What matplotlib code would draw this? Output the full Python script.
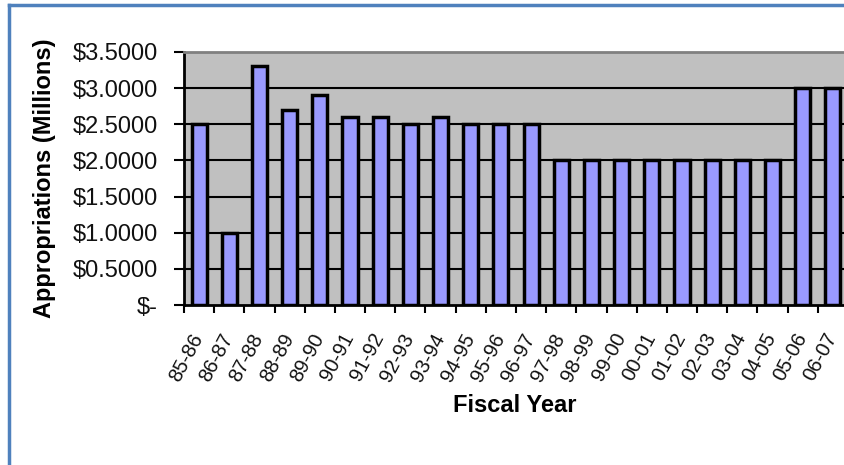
import matplotlib
matplotlib.use("Agg")
import matplotlib.pyplot as plt
import matplotlib.transforms as mtransforms
import numpy as np
from matplotlib.lines import Line2D
from matplotlib.ticker import FuncFormatter, FixedLocator

# dados
anos = ["85-86", "86-87", "87-88", "88-89", "89-90", "90-91", "91-92", "92-93",
        "93-94", "94-95", "95-96", "96-97", "97-98", "98-99", "99-00", "00-01",
        "01-02", "02-03", "03-04", "04-05", "05-06", "06-07"]
valores = [2.5, 1.0, 3.3, 2.7, 2.9, 2.6, 2.6, 2.5, 2.6, 2.5, 2.5, 2.5,
           2.0, 2.0, 2.0, 2.0, 2.0, 2.0, 2.0, 2.0, 3.0, 3.0]
y_ticks = [0, 0.5, 1.0, 1.5, 2.0, 2.5, 3.0, 3.5]

plt.rcParams['font.family'] = ['Liberation Sans', 'DejaVu Sans']

fig = plt.figure(figsize=(8.45, 4.65), dpi=100)
ax = fig.add_axes([184 / 845, 1 - 305 / 465, 664 / 845, 253 / 465])

x = np.arange(len(anos))
ax.bar(x, valores, width=0.5, color='#9999FF', edgecolor='black', linewidth=2.5, zorder=3)

ax.set_facecolor('#C0C0C0')
ax.set_xlim(-0.5, len(anos) - 0.5)
ax.set_ylim(0, 3.5)

# linhas de grade
ax.yaxis.set_major_locator(FixedLocator(y_ticks))
for v in y_ticks[1:-1]:
    ax.axhline(v, color='black', lw=1.5, zorder=1)

ax.yaxis.set_major_formatter(FuncFormatter(lambda v, p: "$-" if v == 0 else "${:.4f}".format(v)))
ax.tick_params(axis='y', direction='out', length=7, width=1.5, pad=12, labelsize=17, labelcolor='#111111')

# ticks do eixo x nas divisas das categorias
ax.set_xticks(x)
ax.set_xticklabels(anos, rotation=62, ha='right', va='top', rotation_mode='anchor')
ax.set_xticks(np.arange(len(anos) + 1) - 0.5, minor=True)
ax.tick_params(axis='x', which='major', length=0, pad=18, labelsize=14.5, labelcolor='#111111')
ax.tick_params(axis='x', which='minor', direction='out', length=6, width=1.5)

# desloca os rotulos um pouco para a esquerda
desloc = mtransforms.ScaledTranslation(-9 / 100, 0, fig.dpi_scale_trans)
for lbl in ax.get_xticklabels():
    lbl.set_transform(lbl.get_transform() + desloc)

for s in ['left', 'bottom']:
    ax.spines[s].set_color('black')
    ax.spines[s].set_linewidth(2)
ax.spines['top'].set_color('#808080')
ax.spines['top'].set_linewidth(2)
ax.spines['right'].set_visible(False)

ax.set_ylabel('Appropriations (Millions)', fontsize=17, fontweight='bold', labelpad=12)
fig.text(515 / 845, 1 - 405 / 465, 'Fiscal Year', fontsize=17, fontweight='bold',
         ha='center', va='center')

# moldura azul
fig.add_artist(Line2D([9 / 845, 9 / 845], [0, 1 - 5 / 465], color='#4F81BD', lw=2.5))
fig.add_artist(Line2D([9 / 845, 1], [1 - 5 / 465, 1 - 5 / 465], color='#4F81BD', lw=2.5))

fig.savefig('out.png', dpi=100)
